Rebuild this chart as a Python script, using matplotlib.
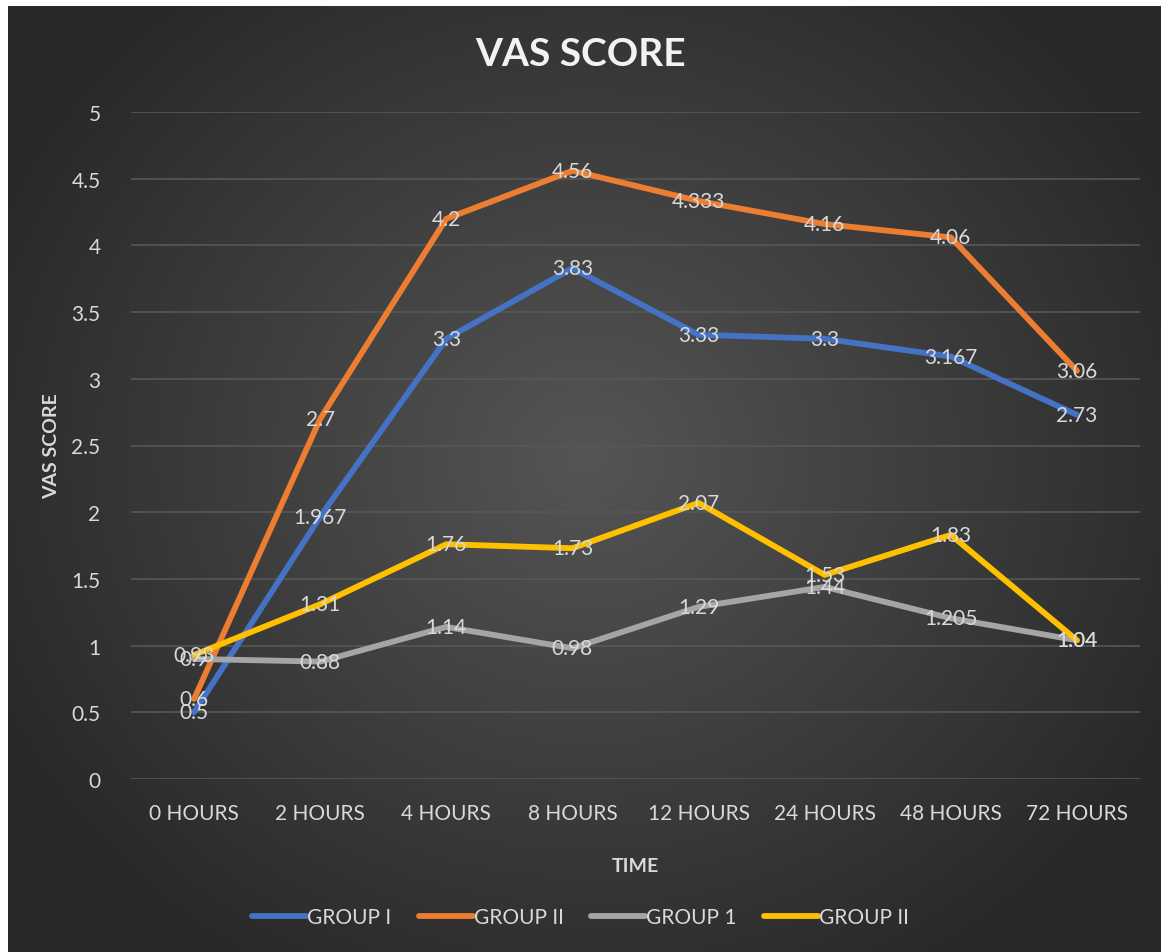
import numpy as np
import matplotlib
matplotlib.use("Agg")
import matplotlib.pyplot as plt

categories = ["0 HOURS", "2 HOURS", "4 HOURS", "8 HOURS", "12 HOURS", "24 HOURS", "48 HOURS", "72 HOURS"]
group_i = [0.5, 1.967, 3.3, 3.83, 3.33, 3.3, 3.167, 2.73]
group_ii = [0.6, 2.7, 4.2, 4.56, 4.333, 4.16, 4.06, 3.06]
group_1 = [0.9, 0.88, 1.14, 0.98, 1.29, 1.44, 1.205, 1.04]
group_ii_b = [0.93, 1.31, 1.76, 1.73, 2.07, 1.53, 1.83, 1.04]
series = [
    ("GROUP I", group_i, "#4472C4"),
    ("GROUP II", group_ii, "#ED7D31"),
    ("GROUP 1", group_1, "#A5A5A5"),
    ("GROUP II", group_ii_b, "#FFC000"),
]
yticks = [0, 0.5, 1, 1.5, 2, 2.5, 3, 3.5, 4, 4.5, 5]

plt.rcParams['font.family'] = ['Lato', 'DejaVu Sans']
W, H = 1161, 953
fig = plt.figure(figsize=(W / 100, H / 100), dpi=100)
fig.patch.set_facecolor("white")

# background radial gradient
bg = fig.add_axes([8 / W, 0, 1 - 8 / W, 1 - 7 / H])
bg.set_axis_off()
yy, xx = np.mgrid[0:200, 0:240]
cx, cy = 120, 95
r = np.sqrt(((xx - cx) / 135.0) ** 2 + ((yy - cy) / 125.0) ** 2)
r = np.clip(r, 0, 1)
inner = np.array([0x55, 0x55, 0x55]) / 255
outer = np.array([0x29, 0x29, 0x29]) / 255
img = inner[None, None, :] * (1 - r[..., None]) + outer[None, None, :] * r[..., None]
bg.imshow(img, aspect="auto", extent=[0, 1, 0, 1], interpolation="bilinear")
bg.set_zorder(0)

left, right = 131 / W, 1140 / W
bottom, top = 1 - 780 / H, 1 - 113 / H
ax = fig.add_axes([left, bottom, right - left, top - bottom])
ax.set_zorder(1)
ax.patch.set_alpha(0)
x = np.arange(len(categories))
ax.set_xlim(-0.5, len(categories) - 0.5)
ax.set_ylim(0, 5)
ax.set_yticks(yticks)
ax.set_yticklabels([f"{v:g}" for v in yticks])
ax.set_xticks(x)
ax.set_xticklabels(categories)
for s in ax.spines.values():
    s.set_visible(False)
ax.tick_params(length=0, colors="#d9d9d9", labelsize=15)
ax.tick_params(axis="y", pad=22)
ax.tick_params(axis="x", pad=17)
ax.grid(axis="y", color="#575757", linewidth=1.2)
ax.set_axisbelow(True)

for name, vals, col in series:
    ax.plot(x, vals, color=col, linewidth=4.2, solid_capstyle="round", label=name, zorder=3)
for name, vals, col in series:
    for xi, v in zip(x, vals):
        ax.text(xi, v, f"{v:g}", ha="center", va="center", color="#d9d9d9", fontsize=15, zorder=4)

ax.set_ylabel("VAS SCORE", color="#d9d9d9", fontsize=14, fontweight="bold", labelpad=8)
ax.set_xlabel("TIME", color="#d9d9d9", fontsize=14, fontweight="bold", labelpad=25)
fig.text(0.5, 1 - 55 / H, "VAS SCORE", ha="center", va="center", color="#f2f2f2",
         fontsize=28, fontweight="bold")

leg = fig.legend(loc="center", bbox_to_anchor=(0.5, 1 - 918 / H), ncol=4, frameon=False,
                 fontsize=15, handlelength=2.6, handletextpad=0.05, columnspacing=1.3)
for t in leg.get_texts():
    t.set_color("#d9d9d9")

fig.savefig("out.png", dpi=100, facecolor=fig.get_facecolor())
